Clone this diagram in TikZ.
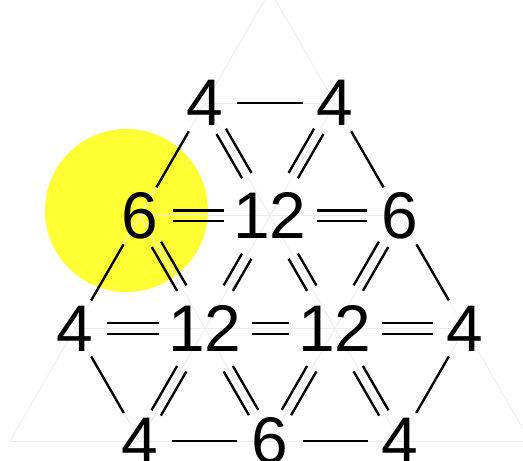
\documentclass[tikz,border=0pt]{standalone}
\usepackage{fontspec}
\setmainfont{Liberation Sans}
\usepackage{xcolor}
\definecolor{spotyellow}{RGB}{255,255,51}
\definecolor{gridgray}{RGB}{236,236,236}

\tikzset{
  num/.style={circle, inner sep=1.2pt, font=\fontsize{37.5}{44}\selectfont},
  edge/.style={draw=black, line width=1.35pt},
  % double bonds: two parallel strokes, shifted across the line direction
  dblh/.style={preaction={edge, transform canvas={shift={(0,0.107)}}},
               postaction={edge, transform canvas={shift={(0,-0.107)}}}},
  dbldown/.style={preaction={edge, transform canvas={shift={(0.093,0.054)}}},
                  postaction={edge, transform canvas={shift={(-0.093,-0.054)}}}},
  dblup/.style={preaction={edge, transform canvas={shift={(-0.093,0.054)}}},
                postaction={edge, transform canvas={shift={(0.093,-0.054)}}}}
}

\begin{document}
\begin{tikzpicture}

  \useasboundingbox (0,0) rectangle (10.46,9.2);
  \clip (0,0) rectangle (10.46,9.2);

  % ── HIGHLIGHT ─────────────────────────────────────────────────────────────
  \fill[spotyellow] (2.53,4.99) circle (1.63);

  % ── FAINT TRIANGULAR GRID ─────────────────────────────────────────────────
  \foreach \j in {0,...,3}{
    \draw[gridgray,line width=0.5pt]
      (0.2+1.3*\j,0.38+2.2517*\j) -- (10.6-1.3*\j,0.38+2.2517*\j);
  }
  \foreach \i in {0,...,3}{
    \draw[gridgray,line width=0.5pt]
      (0.2+2.6*\i,0.38) -- (5.4+1.3*\i,9.387-2.2517*\i);
    \draw[gridgray,line width=0.5pt]
      (10.6-2.6*\i,0.38) -- (5.4-1.3*\i,9.387-2.2517*\i);
  }

  % ── NUMBERS ───────────────────────────────────────────────────────────────
  \node[num] (a1) at (4.1,7.135) {4};
  \node[num] (a2) at (6.7,7.135) {4};

  \node[num] (b1) at (2.8,4.883) {6};
  \node[num] (b2) at (5.4,4.883) {12};
  \node[num] (b3) at (8.0,4.883) {6};

  \node[num] (c1) at (1.5,2.632) {4};
  \node[num] (c2) at (4.1,2.632) {12};
  \node[num] (c3) at (6.7,2.632) {12};
  \node[num] (c4) at (9.3,2.632) {4};

  \node[num] (d1) at (2.8,0.38) {4};
  \node[num] (d2) at (5.4,0.38) {6};
  \node[num] (d3) at (8.0,0.38) {4};

  % ── SINGLE BONDS ──────────────────────────────────────────────────────────
  \path[edge] (a1) -- (a2);
  \path[edge] (a1) -- (b1);
  \path[edge] (a2) -- (b3);
  \path[edge] (b1) -- (c1);
  \path[edge] (b3) -- (c4);
  \path[edge] (c1) -- (d1);
  \path[edge] (c4) -- (d3);
  \path[edge] (d1) -- (d2);
  \path[edge] (d2) -- (d3);

  % ── DOUBLE BONDS ──────────────────────────────────────────────────────────
  \path[dblh] (b1) -- (b2);
  \path[dblh] (b2) -- (b3);
  \path[dblh] (c1) -- (c2);
  \path[dblh] (c2) -- (c3);
  \path[dblh] (c3) -- (c4);

  \path[dbldown] (a1) -- (b2);
  \path[dbldown] (b1) -- (c2);
  \path[dbldown] (b2) -- (c3);
  \path[dbldown] (c2) -- (d2);
  \path[dbldown] (c3) -- (d3);

  \path[dblup] (b2) -- (a2);
  \path[dblup] (c2) -- (b2);
  \path[dblup] (c3) -- (b3);
  \path[dblup] (d1) -- (c2);
  \path[dblup] (d2) -- (c3);

\end{tikzpicture}
\end{document}
